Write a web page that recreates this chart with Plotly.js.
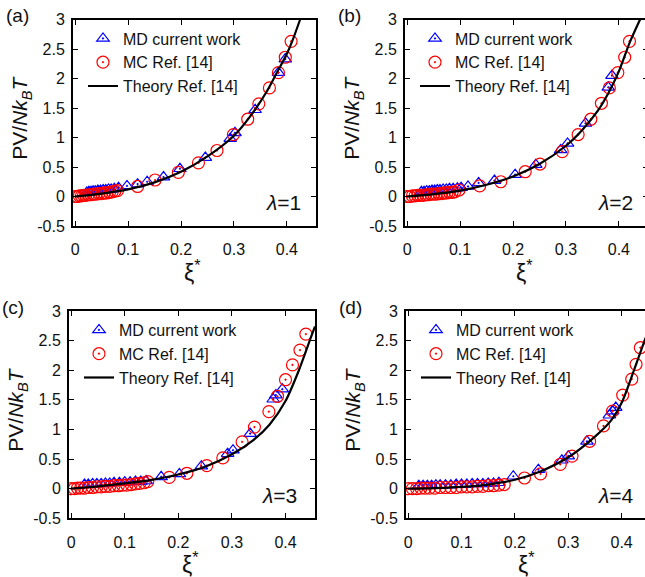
<!DOCTYPE html>
<html><head><meta charset="utf-8">
<script src="https://cdn.plot.ly/plotly-3.0.1.min.js"></script>
<style>html,body{margin:0;padding:0;overflow:hidden;background:#fff}#chart{width:652px;height:577px}</style>
</head><body><div id="chart"></div>
<script>
// ---------------- data ----------------
// Panel (a) lambda = 1
const mdX_a = [0.022,0.026,0.030,0.034,0.038,0.043,0.048,0.053,0.058,0.063,0.068,0.074,0.082,0.098,0.118,0.136,0.167,0.198,0.246,0.293,0.302,0.340,0.384,0.397];
const mdY_a = [0.07,0.08,0.08,0.09,0.09,0.10,0.10,0.11,0.11,0.12,0.12,0.13,0.15,0.18,0.21,0.25,0.33,0.47,0.66,0.98,1.08,1.47,2.10,2.33];
const mcX_a = [0.000,0.004,0.008,0.012,0.016,0.020,0.025,0.030,0.035,0.040,0.045,0.050,0.055,0.060,0.065,0.070,0.075,0.080,0.118,0.151,0.195,0.233,0.268,0.299,0.326,0.347,0.367,0.384,0.397,0.408];
const mcY_a = [0.00,0.00,0.01,0.01,0.02,0.02,0.03,0.03,0.04,0.04,0.05,0.05,0.06,0.06,0.07,0.08,0.09,0.10,0.17,0.28,0.41,0.57,0.78,1.05,1.31,1.57,1.84,2.10,2.36,2.63];
const thX_a = [0,0.05,0.10,0.15,0.20,0.25,0.30,0.33,0.36,0.38,0.40,0.41,0.425];
const thY_a = [0,0.05,0.12,0.24,0.42,0.68,1.03,1.35,1.75,2.08,2.42,2.63,3.0];

// Panel (b) lambda = 2
const mdX_b = [0.027,0.032,0.037,0.042,0.047,0.052,0.057,0.062,0.068,0.074,0.080,0.087,0.095,0.102,0.115,0.135,0.165,0.204,0.243,0.290,0.303,0.337,0.380,0.387];
const mdY_b = [0.08,0.08,0.09,0.09,0.10,0.10,0.11,0.11,0.12,0.12,0.13,0.13,0.14,0.15,0.17,0.23,0.27,0.37,0.54,0.79,0.90,1.24,1.85,2.05];
const mcX_b = [0.000,0.005,0.010,0.015,0.020,0.025,0.030,0.035,0.040,0.045,0.050,0.055,0.060,0.065,0.070,0.075,0.080,0.085,0.090,0.098,0.137,0.177,0.223,0.251,0.293,0.323,0.347,0.367,0.382,0.398,0.411,0.420];
const mcY_b = [0.00,0.00,0.01,0.01,0.02,0.02,0.02,0.03,0.03,0.04,0.04,0.04,0.05,0.05,0.06,0.06,0.07,0.07,0.08,0.11,0.18,0.25,0.42,0.55,0.76,1.05,1.31,1.58,1.84,2.10,2.36,2.63];
const thX_b = [0,0.05,0.10,0.15,0.20,0.25,0.30,0.33,0.36,0.38,0.40,0.42,0.44];
const thY_b = [0,0.04,0.10,0.20,0.34,0.55,0.86,1.12,1.45,1.75,2.12,2.60,3.0];

// Panel (c) lambda = 3
const mdX_c = [0.025,0.032,0.040,0.048,0.056,0.064,0.072,0.080,0.090,0.100,0.110,0.120,0.130,0.140,0.168,0.202,0.243,0.292,0.302,0.334,0.377,0.382,0.394];
const mdY_c = [0.07,0.07,0.08,0.08,0.08,0.09,0.09,0.10,0.10,0.11,0.11,0.12,0.12,0.13,0.20,0.25,0.38,0.59,0.65,0.93,1.51,1.58,1.68];
const mcX_c = [0.000,0.006,0.012,0.018,0.025,0.032,0.040,0.048,0.056,0.064,0.072,0.080,0.088,0.096,0.104,0.112,0.120,0.128,0.136,0.143,0.183,0.216,0.253,0.283,0.319,0.342,0.369,0.385,0.400,0.413,0.427,0.438];
const mcY_c = [0.00,0.00,0.01,0.01,0.01,0.02,0.02,0.03,0.03,0.04,0.04,0.05,0.05,0.06,0.06,0.07,0.08,0.09,0.10,0.12,0.19,0.26,0.39,0.52,0.79,1.04,1.30,1.56,1.84,2.09,2.34,2.61];
const thX_c = [0,0.05,0.10,0.15,0.20,0.25,0.30,0.34,0.37,0.40,0.425,0.448,0.455];
const thY_c = [0,0.04,0.09,0.15,0.24,0.37,0.58,0.82,1.08,1.48,2.00,2.57,2.74];

// Panel (d) lambda = 4
const mdX_d = [0.020,0.028,0.036,0.044,0.052,0.060,0.070,0.080,0.090,0.100,0.110,0.120,0.130,0.140,0.150,0.160,0.170,0.197,0.244,0.288,0.300,0.335,0.377,0.383,0.389];
const mdY_d = [0.05,0.05,0.05,0.05,0.06,0.06,0.06,0.06,0.07,0.07,0.07,0.08,0.08,0.08,0.09,0.09,0.10,0.21,0.32,0.48,0.55,0.80,1.24,1.31,1.37];
const mcX_d = [0.000,0.008,0.016,0.024,0.032,0.040,0.050,0.060,0.070,0.080,0.090,0.100,0.110,0.120,0.130,0.140,0.150,0.160,0.170,0.180,0.218,0.248,0.285,0.307,0.340,0.366,0.383,0.402,0.419,0.427,0.435];
const mcY_d = [0.00,0.00,0.00,0.01,0.01,0.01,0.01,0.02,0.02,0.02,0.02,0.03,0.03,0.03,0.04,0.04,0.05,0.05,0.06,0.07,0.18,0.25,0.41,0.55,0.80,1.06,1.31,1.58,1.85,2.10,2.38];
const thX_d = [0,0.05,0.10,0.15,0.20,0.25,0.30,0.35,0.38,0.40,0.425,0.445];
const thY_d = [0,0.01,0.03,0.07,0.15,0.30,0.53,0.88,1.15,1.45,2.05,2.55];

const panelLabels = ['(a)','(b)','(c)','(d)'];
const lambdaValues = ['1','2','3','4'];
const seriesNames = ['MD current work','MC Ref. [14]','Theory Ref. [14]'];
const xTickVals = [0,0.1,0.2,0.3,0.4];
const xTickText = ['0','0.1','0.2','0.3','0.4'];
const yTickVals = [-0.5,0,0.5,1,1.5,2,2.5,3];
const yTickText = ['-0.5','0','0.5','1','1.5','2','2.5','3'];

// ---------------- layout ----------------
const W = 652, H = 577;
const FONT = '"Liberation Sans", Arial, Helvetica, sans-serif';
const TXT = '#111';
const fx = p => p / W;
const fy = p => 1 - p / H;

// pixel boxes [left, right, top, bottom]
const boxes = [[73,316,19.5,226],[405,648,19.5,226],[69,315,311,518.3],[406,651,311,518.3]];
const panels = [
  {mdX:mdX_a, mdY:mdY_a, mcX:mcX_a, mcY:mcY_a, thX:thX_a, thY:thY_a},
  {mdX:mdX_b, mdY:mdY_b, mcX:mcX_b, mcY:mcY_b, thX:thX_b, thY:thY_b},
  {mdX:mdX_c, mdY:mdY_c, mcX:mcX_c, mcY:mcY_c, thX:thX_c, thY:thY_c},
  {mdX:mdX_d, mdY:mdY_d, mcX:mcX_d, mcY:mcY_d, thX:thX_d, thY:thY_d}
];

const traces = [];
const layout = {
  width: W, height: H, margin: {l:0, r:0, t:0, b:0},
  paper_bgcolor: '#fff', plot_bgcolor: '#fff',
  font: {family: FONT, color: TXT, size: 16},
  annotations: [], showlegend: true
};

panels.forEach((p, i) => {
  const n = i + 1;
  const xa = n === 1 ? 'x' : 'x' + n, ya = n === 1 ? 'y' : 'y' + n;
  const lg = n === 1 ? 'legend' : 'legend' + n;
  const b = boxes[i];
  traces.push({x: p.mdX, y: p.mdY, xaxis: xa, yaxis: ya, legend: lg, name: seriesNames[0],
    type: 'scatter', mode: 'markers',
    marker: {symbol: 'triangle-up-open-dot', size: 11, color: '#0000ff', line: {width: 1.2, color: '#0000ff'}}});
  traces.push({x: p.mcX, y: p.mcY, xaxis: xa, yaxis: ya, legend: lg, name: seriesNames[1],
    type: 'scatter', mode: 'markers',
    marker: {symbol: 'circle-open-dot', size: 12, color: '#ff0000', line: {width: 1.2, color: '#ff0000'}}});
  traces.push({x: p.thX, y: p.thY, xaxis: xa, yaxis: ya, legend: lg, name: seriesNames[2],
    type: 'scatter', mode: 'lines', line: {color: '#000', width: 2.2, shape: 'spline', smoothing: 0.8}});

  const axCommon = {showline: true, linewidth: 2, linecolor: '#000', mirror: 'ticks',
    ticks: 'inside', ticklen: 5, tickwidth: 1, tickcolor: '#000', showgrid: false, zeroline: false,
    tickfont: {family: FONT, size: 16, color: TXT}, fixedrange: true};
  layout['xaxis' + (n === 1 ? '' : n)] = Object.assign({}, axCommon, {
    domain: [fx(b[0]), fx(b[1])], range: [-0.004, 0.455], anchor: ya,
    tickvals: xTickVals, ticktext: xTickText, ticklabelstandoff: 8});
  layout['yaxis' + (n === 1 ? '' : n)] = Object.assign({}, axCommon, {
    domain: [fy(b[3]), fy(b[2])], range: [-0.5, 3], anchor: xa,
    tickvals: yTickVals, ticktext: yTickText, ticklabelstandoff: 3});

  layout[lg] = {x: fx(b[0] + 10), y: fy(b[2] + 2), xanchor: 'left', yanchor: 'top',
    bgcolor: 'rgba(0,0,0,0)', borderwidth: 0, font: {family: FONT, size: 16, color: TXT}};

  const cx = (b[0] + b[1]) / 2;
  // panel label
  layout.annotations.push({text: panelLabels[i], xref: 'paper', yref: 'paper',
    x: fx(b[0] - 69), y: fy(b[2] - 4), xanchor: 'left', yanchor: 'middle', showarrow: false,
    font: {family: FONT, size: 19, color: TXT}});
  // lambda label
  layout.annotations.push({text: '<i>λ</i>=' + lambdaValues[i], xref: 'paper', yref: 'paper',
    x: fx(b[0] + 230), y: fy(b[3] - 23), xanchor: 'right', yanchor: 'middle', showarrow: false,
    font: {family: FONT, size: 21, color: TXT}});
  // y title
  layout.annotations.push({text: 'PV/<i>Nk</i><sub><i>B</i></sub><i>T</i>', xref: 'paper', yref: 'paper',
    x: fx(b[0] - 52), y: fy((b[2] + b[3]) / 2 - 5), xanchor: 'center', yanchor: 'middle', textangle: -90,
    showarrow: false, font: {family: FONT, size: 21, color: TXT}});
  // x title
  layout.annotations.push({text: 'ξ<sup>*</sup>', xref: 'paper', yref: 'paper',
    x: fx(cx - 2), y: fy(b[3] + 28), xanchor: 'center', yanchor: 'top',
    showarrow: false, font: {family: FONT, size: 23, color: TXT}});
});

Plotly.newPlot('chart', traces, layout, {staticPlot: true, displayModeBar: false});
</script>
</body></html>
